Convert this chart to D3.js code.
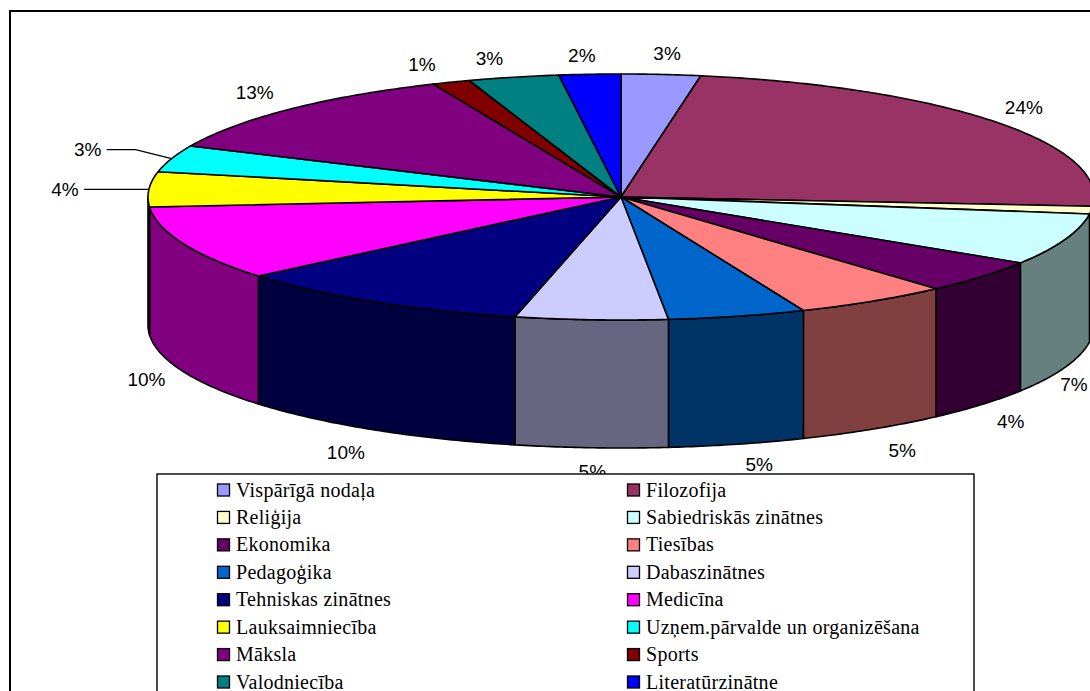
<!DOCTYPE html>
<html>
<head>
<meta charset="utf-8">
<script src="https://cdn.jsdelivr.net/npm/d3@7"></script>
<style>
  html, body { margin: 0; padding: 0; background: #fff; overflow: hidden; }
</style>
</head>
<body>
<div id="vizcont"></div>
<script>
// data (slice sizes in percent, clockwise from 12 o'clock)
var categories = ["Vispārīgā nodaļa", "Filozofija", "Reliģija", "Sabiedriskās zinātnes",
  "Ekonomika", "Tiesības", "Pedagoģika", "Dabaszinātnes", "Tehniskas zinātnes", "Medicīna",
  "Lauksaimniecība", "Uzņem.pārvalde un organizēšana", "Māksla", "Sports", "Valodniecība", "Literatūrzinātne"];
var values = [2.7, 23.5, 1.0, 6.8, 4.4, 5.3, 4.7, 5.2, 10.3, 9.8, 4.6, 3.5, 11.7, 1.3, 3.1, 2.1];
var percentLabels = ["3%", "24%", "", "7%", "4%", "5%", "5%", "5%", "10%", "10%", "4%", "3%", "13%", "1%", "3%", "2%"];
var colors = ["#9999FF", "#993366", "#FFFFCC", "#CCFFFF", "#660066", "#FF8080", "#0066CC", "#CCCCFF",
  "#000080", "#FF00FF", "#FFFF00", "#00FFFF", "#800080", "#800000", "#008080", "#0000FF"];

var width = 1090, height = 691;
var depth = 128;

// label offset from the rim of its slice, in px
var labelNudge = [[6, -21], [30, -14], [0, 0], [9, 17], [29, 17], [29, 21], [22, 20], [1, 24],
  [-28, 22], [-37, 8], [-84, 0], [-84, -9], [-35, -17], [-29, -18], [-24, -19], [-8, -19]];
var hasLeader = [10, 11];

var svg = d3.select("#vizcont")
  .append("svg")
  .attr("width", width)
  .attr("height", height)
  .style("display", "block");

// outer frame, runs off the right and bottom of the picture
svg.append("rect")
  .attr("x", 10)
  .attr("y", 11)
  .attr("width", width + 20)
  .attr("height", height + 20)
  .attr("fill", "#fff")
  .attr("stroke", "#000")
  .attr("stroke-width", 2);

// flattened circle: sin/cos of the slice angle -> pixels
var x = d3.scaleLinear().domain([-1, 1]).range([148, 1094]);
var y = d3.scaleLinear().domain([-1, 1]).range([320, 74]);

var pie = d3.pie().sort(null).value(function(d) { return d; });
var slices = pie(values);

var line = d3.line()
  .x(function(d) { return d[0]; })
  .y(function(d) { return d[1]; });

function rim(a0, a1) {
  var n = Math.max(2, Math.ceil((a1 - a0) / 0.01));
  return d3.range(n + 1).map(function(i) {
    var a = a0 + (a1 - a0) * i / n;
    return [x(Math.sin(a)), y(Math.cos(a))];
  });
}

function darker(c) {
  var r = d3.rgb(c);
  return d3.rgb(r.r / 2, r.g / 2, r.b / 2).formatHex();
}

// side walls, only the front half of the pie shows one
var wall = svg.append("g").attr("stroke", "#000").attr("stroke-width", 1.6).attr("stroke-linejoin", "round");
slices.forEach(function(s) {
  var a0 = Math.max(s.startAngle, Math.PI / 2);
  var a1 = Math.min(s.endAngle, Math.PI * 1.5);
  if (a1 <= a0) return;
  var top = rim(a0, a1);
  var bottom = top.slice().reverse().map(function(p) { return [p[0], p[1] + depth]; });
  wall.append("path")
    .attr("d", line(top.concat(bottom)) + "Z")
    .attr("fill", darker(colors[s.index]));
});

// top face
svg.append("g")
  .attr("stroke", "#000")
  .attr("stroke-width", 1.6)
  .attr("stroke-linejoin", "round")
  .selectAll("path")
  .data(slices)
  .enter()
  .append("path")
  .attr("d", function(s) {
    return line([[x(0), y(0)]].concat(rim(s.startAngle, s.endAngle))) + "Z";
  })
  .attr("fill", function(s) { return colors[s.index]; });

// percent labels
var labels = svg.append("g")
  .attr("font-family", "'Liberation Sans', Arial, sans-serif")
  .attr("font-size", 19)
  .attr("fill", "#000");

slices.forEach(function(s) {
  var i = s.index;
  if (!percentLabels[i]) return;
  var mid = (s.startAngle + s.endAngle) / 2;
  var ax = x(Math.sin(mid));
  var ay = y(Math.cos(mid)) + (Math.cos(mid) < 0 ? depth : 0);
  var lx = ax + labelNudge[i][0];
  var ly = ay + labelNudge[i][1];
  labels.append("text")
    .attr("x", lx)
    .attr("y", ly)
    .attr("dy", "0.35em")
    .attr("text-anchor", "middle")
    .text(percentLabels[i]);
  if (hasLeader.indexOf(i) >= 0) {
    labels.append("path")
      .attr("d", line([[lx + 19, ly], [lx + 48, ly], [ax, ay]]))
      .attr("fill", "none")
      .attr("stroke", "#000")
      .attr("stroke-width", 1.2);
  }
});

// legend, drawn last so it cuts the low 5% label like in the original
var legend = svg.append("g");
legend.append("rect")
  .attr("x", 157)
  .attr("y", 474)
  .attr("width", 817)
  .attr("height", 240)
  .attr("fill", "#fff")
  .attr("stroke", "#000")
  .attr("stroke-width", 1.4);

var rowY = d3.scalePoint().domain(d3.range(8)).range([490, 682]);
var colX = d3.scalePoint().domain([0, 1]).range([217, 627]);

var items = legend.selectAll("g.item")
  .data(categories)
  .enter()
  .append("g")
  .attr("class", "item")
  .attr("transform", function(d, i) {
    return "translate(" + colX(i % 2) + "," + rowY(Math.floor(i / 2)) + ")";
  });

items.append("rect")
  .attr("x", 0.5)
  .attr("y", -6)
  .attr("width", 12)
  .attr("height", 12)
  .attr("fill", function(d, i) { return colors[i]; })
  .attr("stroke", "#000")
  .attr("stroke-width", 1.3);

items.append("text")
  .attr("x", 19)
  .attr("y", 0)
  .attr("dy", "0.33em")
  .attr("font-family", "'Liberation Serif', 'Times New Roman', serif")
  .attr("font-size", 20)
  .attr("letter-spacing", 0.27)
  .attr("fill", "#000")
  .text(function(d) { return d; });
</script>
</body>
</html>
